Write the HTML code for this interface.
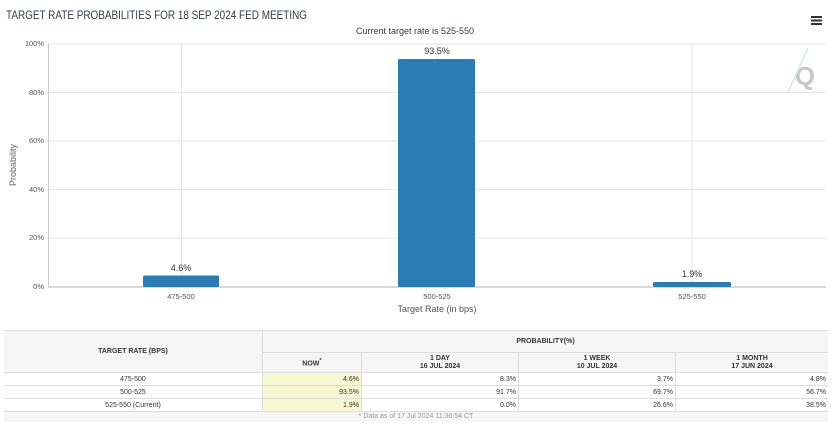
<!DOCTYPE html>
<html><head><meta charset="utf-8"><style>
body{margin:0;width:836px;height:426px;background:#fff;overflow:hidden;font-family:"Liberation Sans",sans-serif;}
.t{position:absolute;}
table{position:absolute;left:4px;top:330px;width:824px;border-collapse:collapse;font-size:7px;color:#333;}
td{border:1px solid #ddd;padding:0 2px;}
tr td:first-child{border-left:none;}
tr td:last-child{border-right:none;}
</style></head><body>
<svg class="t" style="left:0;top:0" width="836" height="320" font-family="Liberation Sans, DejaVu Sans, sans-serif">
<text x="6" y="19" font-size="12" fill="#333a4a" textLength="301" lengthAdjust="spacingAndGlyphs">TARGET RATE PROBABILITIES FOR 18 SEP 2024 FED MEETING</text>
<text x="415" y="34" font-size="9" fill="#333a4a" text-anchor="middle">Current target rate is 525-550</text>
<g fill="#333">
<rect x="811" y="16" width="11" height="2"/><rect x="811" y="19.5" width="11" height="2"/><rect x="811" y="23" width="11" height="2"/></g>
<g stroke="#e6e6e6" stroke-width="1">
<line x1="48" y1="44" x2="826" y2="44"/><line x1="48" y1="92.5" x2="826" y2="92.5"/><line x1="48" y1="141" x2="826" y2="141"/><line x1="48" y1="189.5" x2="826" y2="189.5"/><line x1="48" y1="238" x2="826" y2="238"/>
<line x1="181.5" y1="44" x2="181.5" y2="287"/><line x1="437" y1="44" x2="437" y2="287"/><line x1="692" y1="44" x2="692" y2="287"/>
<line x1="48.5" y1="44" x2="48.5" y2="287" stroke="#ccc"/>
</g>
<line x1="48" y1="287" x2="826" y2="287" stroke="#ccc" stroke-width="1.5"/>
<g font-size="7.5" fill="#555" text-anchor="end">
<text x="44" y="46">100%</text><text x="44" y="95">80%</text><text x="44" y="143">60%</text><text x="44" y="192">40%</text><text x="44" y="240">20%</text><text x="44" y="289">0%</text></g>
<text transform="translate(16,165) rotate(-90)" font-size="9" fill="#666" text-anchor="middle">Probability</text>
<g fill="#2b7bb5">
<rect x="143" y="275.5" width="76" height="11.5" rx="1.5"/>
<rect x="398" y="59" width="77" height="228" rx="1.5"/>
<rect x="653" y="282" width="78" height="5" rx="1.5"/></g>
<g font-size="9" fill="#333" text-anchor="middle">
<text x="181" y="271">4.6%</text><text x="437" y="54">93.5%</text><text x="692" y="277">1.9%</text></g>
<g font-size="7.5" fill="#555" text-anchor="middle">
<text x="181" y="299">475-500</text><text x="437" y="299">500-525</text><text x="692" y="299">525-550</text></g>
<text x="437" y="312" font-size="9" fill="#555" text-anchor="middle">Target Rate (in bps)</text>
<text x="805" y="85" font-size="26" font-weight="bold" fill="#c8c8c8" text-anchor="middle">Q</text>
<line x1="788" y1="92" x2="808" y2="48" stroke="#cfe8f0" stroke-width="1.5"/>
<line x1="4" y1="325" x2="830" y2="325" stroke="#ccc" stroke-width="1.5"/>
</svg>
<table>
<tr style="height:22px;background:#f6f6f6;font-weight:bold"><td rowspan="2" style="width:254px;text-align:center">TARGET RATE (BPS)</td><td colspan="4" style="text-align:center">PROBABILITY(%)</td></tr>
<tr style="height:20px;background:#f6f6f6;font-weight:bold;text-align:center;line-height:8px"><td style="width:94px">NOW<sup>*</sup></td><td style="width:152px">1 DAY<br>16 JUL 2024</td><td style="width:152px">1 WEEK<br>10 JUL 2024</td><td>1 MONTH<br>17 JUN 2024</td></tr>
<tr style="height:13px;text-align:right"><td style="text-align:center">475-500</td><td style="background:#f7f7d2">4.6%</td><td>8.3%</td><td>3.7%</td><td>4.8%</td></tr>
<tr style="height:13px;text-align:right"><td style="text-align:center">500-525</td><td style="background:#f7f7d2">93.5%</td><td>91.7%</td><td>69.7%</td><td>56.7%</td></tr>
<tr style="height:13px;text-align:right"><td style="text-align:center">525-550 (Current)</td><td style="background:#f7f7d2">1.9%</td><td>0.0%</td><td>26.6%</td><td>38.5%</td></tr>
<tr style="height:10px;background:#f6f6f6"><td colspan="5" style="text-align:center;color:#999;border:none">* Data as of 17 Jul 2024 11:36:54 CT</td></tr>
</table>
</body></html>
